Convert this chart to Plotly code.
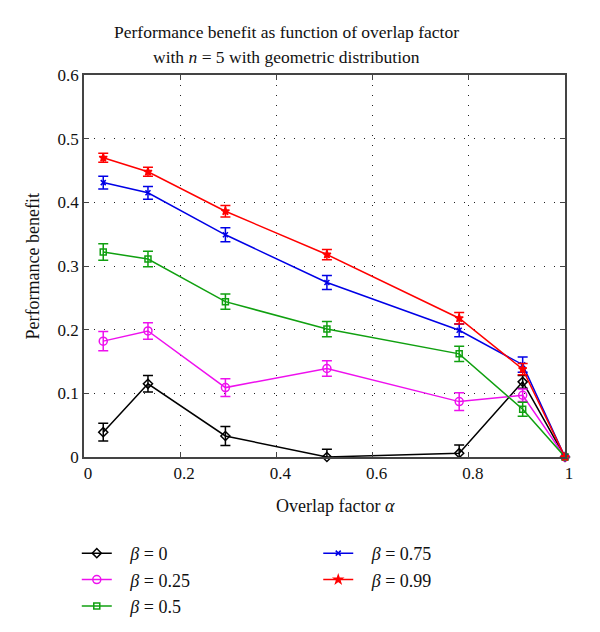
import plotly.graph_objects as go

alpha = [0.04, 0.133, 0.294, 0.505, 0.78, 0.912, 1.0]
beta_names = ["<i>β</i> = 0", "<i>β</i> = 0.25", "<i>β</i> = 0.5", "<i>β</i> = 0.75", "<i>β</i> = 0.99"]
b0 = [0.039, 0.115, 0.033, 0.0, 0.006, 0.118, 0.0]
b25 = [0.182, 0.198, 0.109, 0.139, 0.087, 0.097, 0.0]
b50 = [0.322, 0.311, 0.244, 0.201, 0.162, 0.075, 0.0]
b75 = [0.431, 0.415, 0.349, 0.274, 0.199, 0.145, 0.0]
b99 = [0.470, 0.448, 0.386, 0.318, 0.218, 0.138, 0.0]
e0 = [0.014, 0.013, 0.015, 0.012, 0.013, 0.010, 0.0]
e25 = [0.015, 0.013, 0.014, 0.012, 0.014, 0.010, 0.0]
e50 = [0.013, 0.012, 0.012, 0.012, 0.012, 0.011, 0.0]
e75 = [0.010, 0.010, 0.011, 0.011, 0.010, 0.012, 0.0]
e99 = [0.007, 0.007, 0.009, 0.008, 0.009, 0.009, 0.0]
x_ticks = [0, 0.2, 0.4, 0.6, 0.8, 1]
y_ticks = [0, 0.1, 0.2, 0.3, 0.4, 0.5, 0.6]
title_lines = ["Performance benefit as function of overlap factor",
               "with <i>n</i> = 5 with geometric distribution"]

series = [
    (b0, e0, "#000000", "diamond-open", 7, "legend"),
    (b25, e25, "#ee10ee", "circle-open", 8, "legend"),
    (b50, e50, "#10a010", "square-open", 6, "legend"),
    (b75, e75, "#0000e6", "x-thin-open", 5, "legend2"),
    (b99, e99, "#ff0000", "star", 6, "legend2"),
]

FONT = "Liberation Serif, DejaVu Serif, serif"
TXT = "#111111"
fig = go.Figure()
for (ys, es, col, sym, sz, lg), name in zip(series, beta_names):
    fig.add_trace(go.Scatter(
        x=alpha, y=ys, name="\u00a0\u00a0\u00a0" + name, mode="lines+markers",
        line=dict(color=col, width=1.5),
        marker=dict(symbol=sym, size=sz, color=col, line=dict(color=col, width=1.5)),
        error_y=dict(type="data", array=es, color=col, thickness=1.5, width=5),
        cliponaxis=False, legend=lg,
    ))

axis_common = dict(
    showline=True, linecolor="#444444", linewidth=1.5, mirror="ticks",
    ticks="inside", ticklen=5, tickcolor="#444444", tickwidth=1,
    showgrid=True, gridcolor="#222222", gridwidth=1, griddash="1px,9px",
    zeroline=False, tickfont=dict(family=FONT, size=17, color=TXT),
    automargin=False,
)

fig.update_layout(
    width=600, height=632,
    margin=dict(l=76, r=43, t=67, b=183),
    paper_bgcolor="white", plot_bgcolor="white",
    xaxis=dict(range=[0, 1], tickvals=x_ticks, ticktext=[str(t) for t in x_ticks],
               ticklabelshift=4, **axis_common),
    yaxis=dict(range=[0, 0.6], tickvals=y_ticks, ticktext=[str(t) for t in y_ticks], **axis_common),
    annotations=[
        dict(text=title_lines[0], xref="paper", yref="paper", x=0.42, y=1.112,
             xanchor="center", yanchor="middle", showarrow=False, font=dict(family=FONT, size=17.5, color=TXT)),
        dict(text=title_lines[1], xref="paper", yref="paper", x=0.42, y=1.047,
             xanchor="center", yanchor="middle", showarrow=False, font=dict(family=FONT, size=17.5, color=TXT)),
        dict(text="Overlap factor <i>α</i>", xref="paper", yref="paper", x=0.522, y=-0.128,
             xanchor="center", yanchor="middle", showarrow=False, font=dict(family=FONT, size=18, color=TXT)),
        dict(text="Performance benefit", xref="paper", yref="paper", x=-0.105, y=0.5, textangle=-90,
             xanchor="center", yanchor="middle", showarrow=False, font=dict(family=FONT, size=18, color=TXT)),
    ],
    legend=dict(x=-0.015, y=-0.204, xanchor="left", yanchor="top", orientation="v",
                font=dict(family=FONT, size=18, color=TXT), bgcolor="rgba(0,0,0,0)",
                tracegroupgap=0, itemwidth=30),
    legend2=dict(x=0.487, y=-0.204, xanchor="left", yanchor="top", orientation="v",
                 font=dict(family=FONT, size=18, color=TXT), bgcolor="rgba(0,0,0,0)",
                 tracegroupgap=0, itemwidth=30),
)

fig.write_html("out.html")
